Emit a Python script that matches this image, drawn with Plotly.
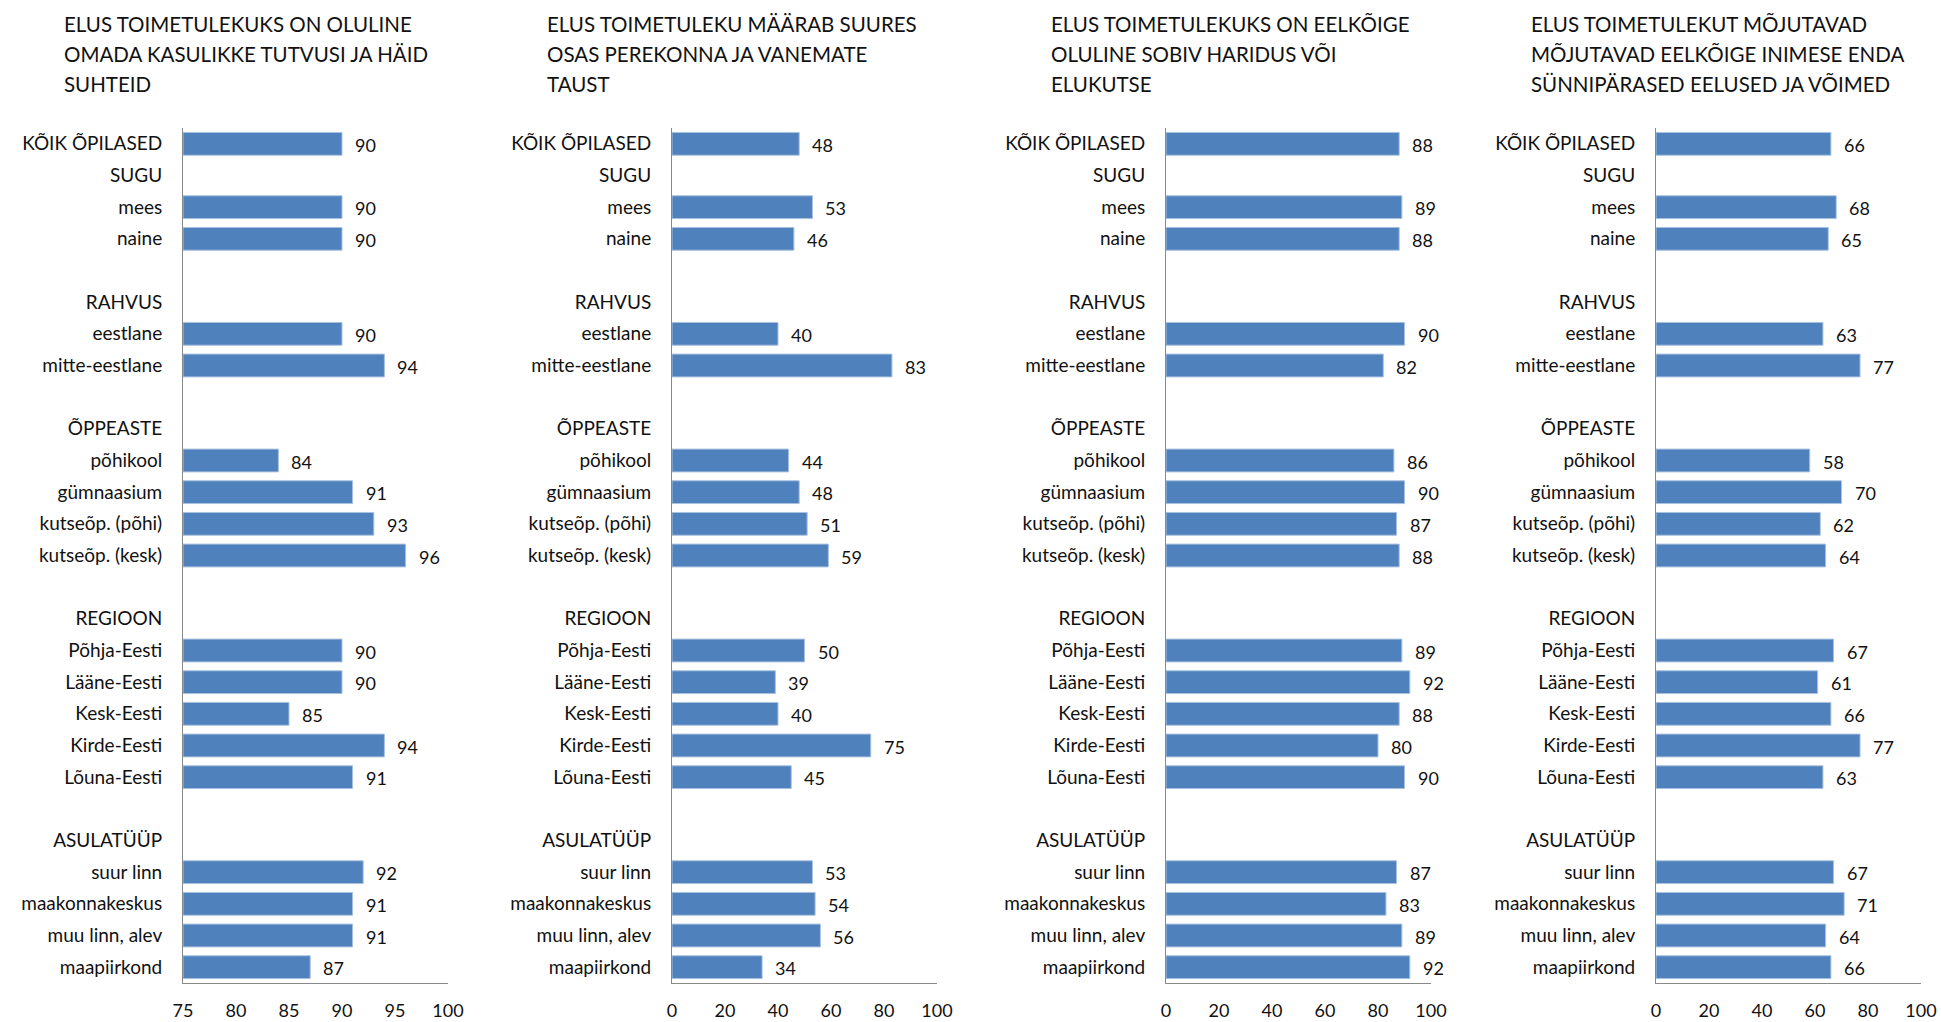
import plotly.graph_objects as go

# ---- data ----
categories = [
    "KÕIK ÕPILASED", "SUGU", "mees", "naine", " ",
    "RAHVUS", "eestlane", "mitte-eestlane", "  ",
    "ÕPPEASTE", "põhikool", "gümnaasium", "kutseõp. (põhi)", "kutseõp. (kesk)", "   ",
    "REGIOON", "Põhja-Eesti", "Lääne-Eesti", "Kesk-Eesti", "Kirde-Eesti", "Lõuna-Eesti", "    ",
    "ASULATÜÜP", "suur linn", "maakonnakeskus", "muu linn, alev", "maapiirkond",
]

titles = [
    ["ELUS TOIMETULEKUKS ON OLULINE", "OMADA KASULIKKE TUTVUSI JA HÄID", "SUHTEID"],
    ["ELUS TOIMETULEKU MÄÄRAB SUURES", "OSAS PEREKONNA JA VANEMATE", "TAUST"],
    ["ELUS TOIMETULEKUKS ON EELKÕIGE", "OLULINE SOBIV HARIDUS VÕI", "ELUKUTSE"],
    ["ELUS TOIMETULEKUT MÕJUTAVAD", "MÕJUTAVAD EELKÕIGE INIMESE ENDA", "SÜNNIPÄRASED EELUSED JA VÕIMED"],
]

N = None
tutvused = [90, N, 90, 90, N, N, 90, 94, N, N, 84, 91, 93, 96, N, N, 90, 90, 85, 94, 91, N, N, 92, 91, 91, 87]
perekond = [48, N, 53, 46, N, N, 40, 83, N, N, 44, 48, 51, 59, N, N, 50, 39, 40, 75, 45, N, N, 53, 54, 56, 34]
haridus = [88, N, 89, 88, N, N, 90, 82, N, N, 86, 90, 87, 88, N, N, 89, 92, 88, 80, 90, N, N, 87, 83, 89, 92]
eeldused = [66, N, 68, 65, N, N, 63, 77, N, N, 58, 70, 62, 64, N, N, 67, 61, 66, 77, 63, N, N, 67, 71, 64, 66]

series = [tutvused, perekond, haridus, eeldused]
x_ranges = [[75, 100], [0, 100], [0, 100], [0, 100]]
x_ticks = [[75, 80, 85, 90, 95, 100], [0, 20, 40, 60, 80, 100],
           [0, 20, 40, 60, 80, 100], [0, 20, 40, 60, 80, 100]]

# ---- layout geometry (pixels) ----
W, H = 1941, 1022
axis_left = [183, 672, 1166, 1656]
axis_width = 265
plot_top, plot_bottom = 128, 983
title_x = [62, 545, 1049, 1529]
title_line_y = [24.5, 54, 83.5]

FONT = "Lato, 'Open Sans', sans-serif"
TXT = "#111111"
BAR = "#4F81BD"
AXIS = "#898989"

fig = go.Figure()
layout = dict(
    width=W, height=H, margin=dict(l=0, r=0, t=0, b=0, autoexpand=False),
    paper_bgcolor="white", plot_bgcolor="white",
    showlegend=False, bargap=0.28,
    font=dict(family=FONT, color=TXT, size=18),
)
annotations = []

for i in range(4):
    xa = "x" if i == 0 else f"x{i+1}"
    ya = "y" if i == 0 else f"y{i+1}"
    xkey = "xaxis" if i == 0 else f"xaxis{i+1}"
    ykey = "yaxis" if i == 0 else f"yaxis{i+1}"
    vals = series[i]
    lo = x_ranges[i][0]
    fig.add_trace(go.Bar(
        x=[None if v is None else v - lo for v in vals], base=lo,
        y=categories, orientation="h", xaxis=xa, yaxis=ya,
        marker=dict(color=BAR, line=dict(color="#A9C1DF", width=1)),
        hoverinfo="y",
    ))
    d0 = axis_left[i] / W
    d1 = (axis_left[i] + axis_width) / W
    layout[xkey] = dict(
        domain=[d0, d1], range=x_ranges[i], anchor=ya, automargin=False,
        tickvals=x_ticks[i], showgrid=False, zeroline=False,
        showline=True, linecolor=AXIS, linewidth=1,
        ticks="", ticklabelstandoff=11,
        tickfont=dict(family=FONT, size=18, color=TXT),
        fixedrange=True,
    )
    layout[ykey] = dict(
        domain=[1 - plot_bottom / H, 1 - plot_top / H], anchor=xa, automargin=False,
        type="category", categoryorder="array", categoryarray=categories,
        range=[len(categories) - 0.5, -0.5],
        showgrid=False, zeroline=False, showline=True, linecolor=AXIS, linewidth=1,
        ticks="", ticklabelstandoff=16,
        tickfont=dict(family=FONT, size=19, color=TXT),
        fixedrange=True,
    )
    for cat, v in zip(categories, vals):
        if v is None:
            continue
        annotations.append(dict(
            x=v, y=cat, xref=xa, yref=ya, text=str(v), showarrow=False,
            xanchor="left", yanchor="middle", xshift=11, yshift=-1,
            font=dict(family=FONT, size=18, color=TXT),
        ))
    for line, ly in zip(titles[i], title_line_y):
        annotations.append(dict(
            x=title_x[i] / W, y=1 - ly / H, xref="paper", yref="paper",
            text=line, showarrow=False, xanchor="left", yanchor="middle",
            align="left", font=dict(family=FONT, size=20.5, color=TXT),
        ))

layout["annotations"] = annotations
fig.update_layout(**layout)
fig.write_html(
    "out.html",
    config={"displayModeBar": False},
    post_script="document.body.style.margin='0';document.body.style.overflow='hidden';",
)
